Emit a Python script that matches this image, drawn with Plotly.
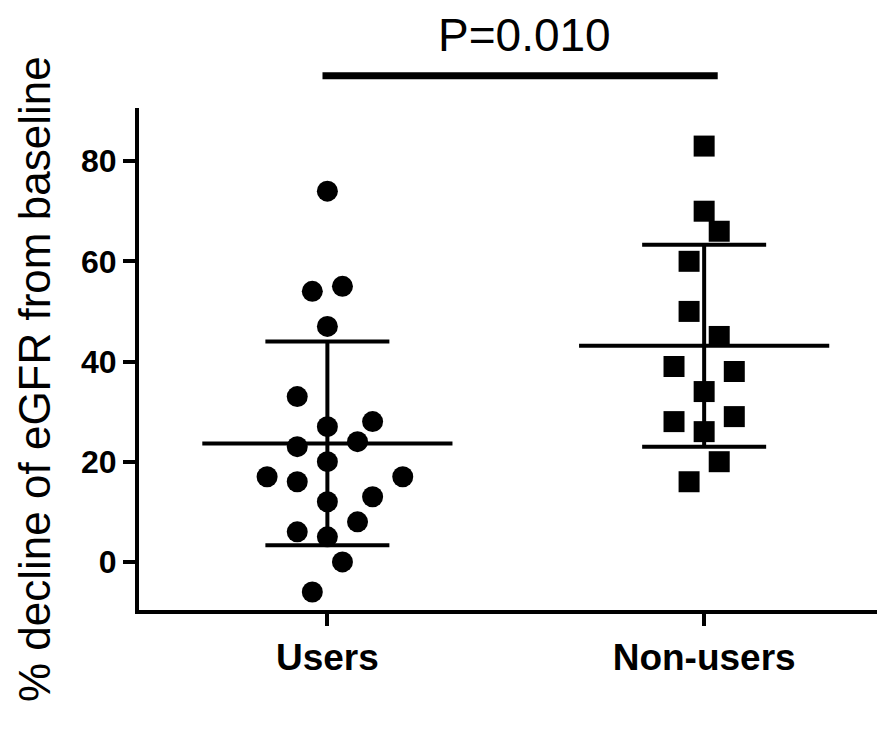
import numpy as np
import plotly.graph_objects as go

# ---- data ----
categories = ["Users", "Non-users"]
users_values = [74, 54, 55, 47, 33, 28, 27, 23, 24, 20, 17, 17, 16, 13, 12, 8, 6, 5, 0, -6]
users_slots = [0, -1, 1, 0, -2, 3, 0, -2, 2, 0, -4, 5, -2, 3, 0, 2, -2, 0, 1, -1]
nonusers_values = [83, 70, 66, 60, 50, 45, 39, 38, 34, 29, 28, 26, 20, 16]
nonusers_slots = [0, 0, 1, -1, -1, 1, -2, 2, 0, 2, -2, 0, 1, -1]
y_ticks = [0, 20, 40, 60, 80]
p_label = "P=0.010"
y_title = "% decline of eGFR from baseline"

FONT = "Liberation Sans, Arial, sans-serif"
SLOT = 0.04        # horizontal scatter step (category units)
MEAN_HALF = 0.332  # half width of the mean line (category units)

groups = [
    (users_values, users_slots, "circle"),
    (nonusers_values, nonusers_slots, "square"),
]

fig = go.Figure()

# mean and SD lines (drawn beneath the points)
for i, (vals, slots, sym) in enumerate(groups):
    arr = np.array(vals, dtype=float)
    m = arr.mean()
    sd = arr.std(ddof=1)
    fig.add_trace(go.Scatter(
        x=[i - MEAN_HALF, i + MEAN_HALF], y=[m, m], mode="lines",
        line=dict(color="black", width=4), hoverinfo="skip"))
    fig.add_trace(go.Scatter(
        x=[i], y=[m], mode="markers",
        marker=dict(size=1, color="rgba(0,0,0,0)"),
        error_y=dict(type="data", array=[sd], visible=True,
                     color="black", thickness=4, width=62)))

# individual points
for i, (vals, slots, sym) in enumerate(groups):
    fig.add_trace(go.Scatter(
        x=[i + s * SLOT for s in slots], y=vals, mode="markers",
        marker=dict(symbol=sym, size=21, color="black",
                    line=dict(width=0)),
        name=categories[i]))

axis_common = dict(
    showline=True, linewidth=4, linecolor="black",
    ticks="outside", ticklen=12, tickwidth=4, tickcolor="black",
    showgrid=False, zeroline=False,
)

# page body adds an 8px margin; the figure is sized to compensate
fig.update_layout(
    width=877, height=724,
    margin=dict(l=131, r=0, t=100, b=122),
    plot_bgcolor="white", paper_bgcolor="white",
    showlegend=False,
    font=dict(family=FONT, color="black"),
    xaxis=dict(range=[-0.5, 1.48], tickvals=[0, 1], ticktext=categories,
               tickfont=dict(family=FONT, size=37, weight="bold", color="black"),
               **axis_common),
    yaxis=dict(range=[-9.6, 90.6], tickvals=y_ticks,
               tickfont=dict(family=FONT, size=32, weight="bold", color="black"),
               **axis_common),
)

# significance bar and label
fig.add_shape(type="line", xref="x", yref="paper",
              x0=-0.013, x1=1.036, y0=1.064, y1=1.064,
              line=dict(color="black", width=7))
fig.add_annotation(text=p_label, xref="paper", yref="paper",
                   x=(524 - 139) / 746, y=(610 - 35) / 502, showarrow=False,
                   xanchor="center", yanchor="middle",
                   font=dict(family=FONT, size=46, color="black"))

# y axis title
fig.add_annotation(text=y_title, xref="paper", yref="paper",
                   x=(34 - 139) / 746, y=(610 - 379) / 502, textangle=-90,
                   showarrow=False, xanchor="center", yanchor="middle",
                   font=dict(family=FONT, size=44, color="black"))

fig.write_html("out.html")
